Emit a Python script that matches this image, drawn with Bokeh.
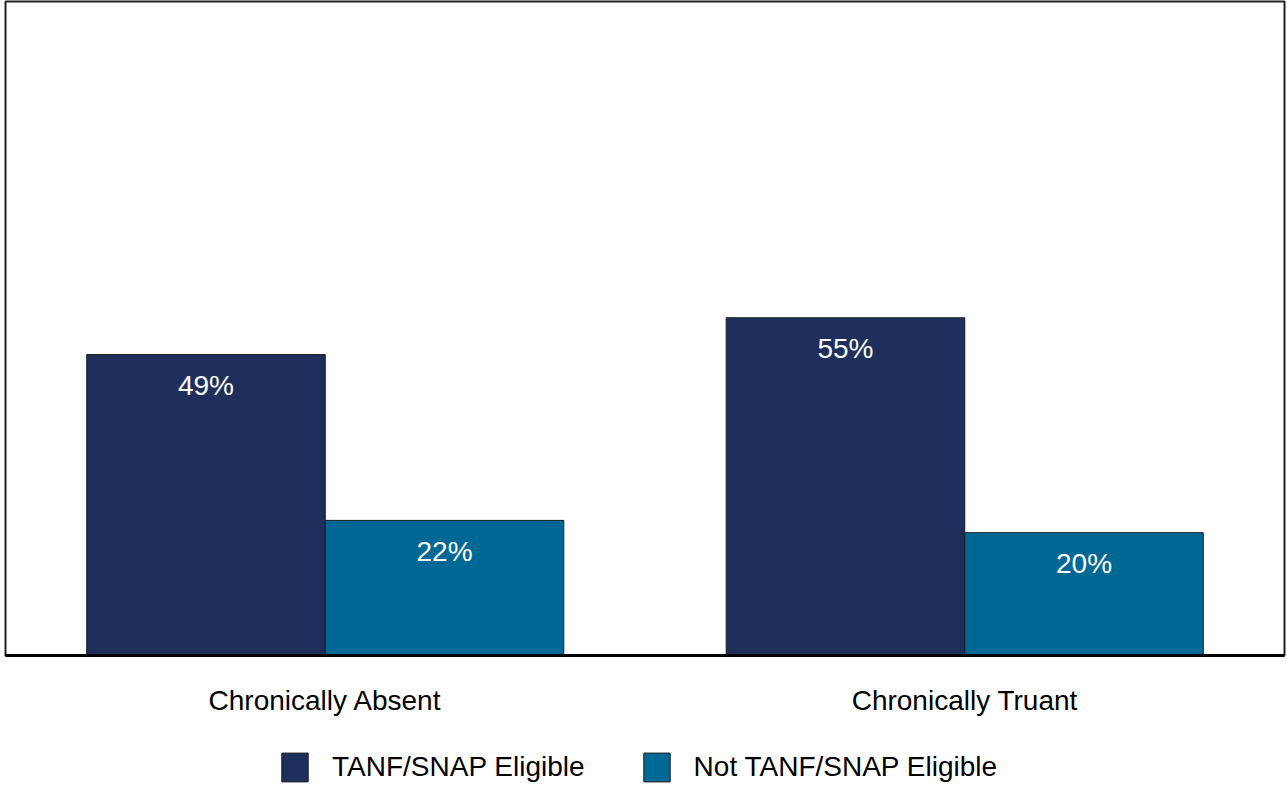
from bokeh.plotting import figure
from bokeh.layouts import column
from bokeh.models import ColumnDataSource, Range1d, FactorRange, Legend, LegendItem
from bokeh.core.properties import value
from bokeh.transform import dodge
from bokeh.embed import file_html
from bokeh.resources import INLINE

# Share of students, by eligibility group (%)
categories = ["Chronically Absent", "Chronically Truant"]
eligible = [49, 55]
not_eligible = [22, 20]
series_names = ["TANF/SNAP Eligible", "Not TANF/SNAP Eligible"]

NAVY = "#1F2F5C"
TEAL = "#006894"
FONT = "Liberation Sans"
W = 1287

src = ColumnDataSource(dict(
    cat=categories,
    elig=eligible,
    nelig=not_eligible,
    elig_lbl=[f"{v}%" for v in eligible],
    nelig_lbl=[f"{v}%" for v in not_eligible],
))

p = figure(
    width=W, height=730,
    x_range=FactorRange(*categories, range_padding=0),
    y_range=Range1d(0, 106.5),
    output_backend="svg", toolbar_location=None,
    min_border_left=5, min_border_right=3, min_border_top=1,
    min_border_bottom=75,
)

bw = 0.373
bar_style = dict(width=bw, source=src, line_color="#1a1a1a", line_width=1)
p.vbar(x=dodge("cat", -bw / 2, range=p.x_range), top="elig", fill_color=NAVY, **bar_style)
p.vbar(x=dodge("cat", bw / 2, range=p.x_range), top="nelig", fill_color=TEAL, **bar_style)

# value labels just inside the top of each bar
for col, lbl, off in (("elig", "elig_lbl", -bw / 2), ("nelig", "nelig_lbl", bw / 2)):
    p.text(x=dodge("cat", off, range=p.x_range), y=col, text=lbl, source=src,
           text_color="white", text_font=value(FONT), text_font_size="28px",
           text_align="center", text_baseline="middle", y_offset=31)

p.yaxis.visible = False
p.xgrid.grid_line_color = None
p.ygrid.grid_line_color = None
p.outline_line_color = "#222222"
p.outline_line_width = 2

ax = p.xaxis[0]
ax.axis_line_color = "black"
ax.axis_line_width = 3
ax.major_tick_line_color = None
ax.minor_tick_line_color = None
ax.major_label_text_font = FONT
ax.major_label_text_font_size = "28px"
ax.major_label_text_color = "black"
ax.major_label_standoff = 23

# legend strip underneath the chart; its key renderers sit far outside the visible range
lg = figure(
    width=W, height=55, x_range=Range1d(0, 10), y_range=Range1d(0, 10),
    output_backend="svg", toolbar_location=None, min_border=0,
)
lg.axis.visible = False
lg.grid.visible = False
lg.outline_line_color = None
keys = ColumnDataSource(dict(x=[-500], top=[-500], bottom=[-510]))
k1 = lg.vbar(x="x", top="top", bottom="bottom", width=1, source=keys,
             fill_color=NAVY, line_color="#1a1a1a")
k2 = lg.vbar(x="x", top="top", bottom="bottom", width=1, source=keys,
             fill_color=TEAL, line_color="#1a1a1a")

legend = Legend(
    items=[LegendItem(label=series_names[0], renderers=[k1]),
           LegendItem(label=series_names[1], renderers=[k2])],
    orientation="horizontal", location=(273, 0),
    glyph_width=33, glyph_height=36, label_standoff=21, spacing=55,
    label_text_font=FONT, label_text_font_size="28px", label_text_color="black",
    border_line_color=None, background_fill_alpha=0,
    padding=0, margin=0,
)
lg.add_layout(legend, "center")

layout = column(p, lg, spacing=0)
open("out.html", "w").write(file_html(layout, INLINE))
